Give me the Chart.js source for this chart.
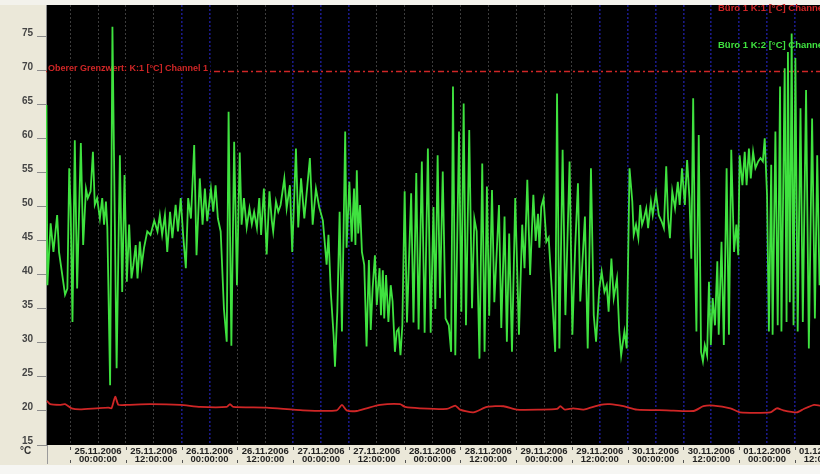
<!DOCTYPE html>
<html>
<head>
<meta charset="utf-8">
<script src="https://cdn.jsdelivr.net/npm/chart.js@4.4.1/dist/chart.umd.min.js"></script>
<style>
  html, body { margin: 0; padding: 0; background: #ebe8d9; overflow: hidden; }
  canvas { display: block; }
</style>
</head>
<body>
<canvas id="c" width="820" height="474"></canvas>
<script>
// Time is counted in hours from 25.11.2006 00:00:00.

// Büro 1 K:1 [°C] Channel 1
const ch1Hours = [
  -11.0, -10.3, -8.2, -7.1, -5.7, -3.9, -0.3, 2.2, 2.9, 3.7,
  4.4, 6.2, 11.2, 17.7, 22.0, 27.7, 28.4, 29.1, 36.3, 44.1,
  51.4, 52.5, 53.5, 55.7, 57.8, 60.7, 65.0, 66.1, 69.3, 75.1,
  76.9, 77.9, 80.8, 83.7, 87.3, 90.1, 95.2, 98.8, 99.5, 100.5,
  102.3, 104.5, 108.1, 110.2, 113.1, 116.0, 122.4, 128.2, 130.3, 132.5,
  136.1, 138.2, 144.7, 146.1, 147.5, 150.4, 151.9, 154.1, 155.4
];
const ch1Temps = [
  21.5, 21.0, 20.9, 21.0, 20.4, 20.25, 20.4, 20.5, 20.4, 22.1,
  20.9, 20.9, 21.0, 20.9, 20.6, 20.6, 21.0, 20.6, 20.5, 20.1,
  20.1, 20.9, 20.1, 20.0, 20.4, 20.9, 21.0, 20.6, 20.4, 20.3,
  20.8, 20.2, 19.8, 20.6, 20.7, 20.2, 20.2, 20.3, 20.7, 20.2,
  20.4, 20.2, 20.9, 21.0, 20.7, 20.2, 20.1, 20.0, 20.7, 20.8,
  20.4, 19.8, 19.8, 20.4, 20.1, 19.8, 20.3, 20.9, 20.8
];

// Büro 1 K:2 [°C] Channel 2
const ch2Hours = [
  -11.1, -10.9, -10.2, -9.6, -8.8, -8.4, -7.7, -7.1, -6.6, -6.2,
  -5.9, -5.5, -5.0, -4.5, -3.7, -3.2, -2.6, -2.2, -1.6, -1.1,
  -0.7, -0.2, 0.4, 0.9, 1.3, 1.7, 2.0, 2.6, 3.1, 4.0,
  4.7, 5.2, 5.7, 6.2, 6.7, 7.2, 7.6, 8.1, 8.5, 9.0,
  9.4, 9.9, 10.6, 11.3, 12.1, 12.8, 13.3, 13.8, 14.4, 14.9,
  15.5, 16.0, 16.7, 17.2, 17.8, 18.3, 18.9, 19.4, 20.0, 20.7,
  21.2, 21.9, 22.5, 23.0, 23.5, 24.3, 24.8, 25.3, 25.8, 26.4,
  27.1, 27.7, 28.1, 28.7, 29.3, 29.9, 30.5, 30.9, 31.4, 32.0,
  32.6, 33.1, 33.6, 34.2, 34.7, 35.1, 35.7, 36.3, 36.9, 37.4,
  37.7, 38.3, 38.8, 39.3, 40.1, 40.6, 41.3, 41.8, 42.6, 43.1,
  43.7, 44.4, 44.9, 45.6, 46.2, 46.9, 47.6, 48.4, 49.2, 49.6,
  50.1, 50.7, 51.0, 51.5, 52.0, 52.5, 53.2, 53.5, 54.1, 54.6,
  55.1, 55.4, 55.7, 56.0, 56.4, 56.8, 57.3, 57.8, 58.3, 58.7,
  59.1, 59.6, 60.0, 60.6, 60.9, 61.3, 61.6, 62.0, 62.5, 63.0,
  63.4, 63.9, 64.3, 64.7, 65.1, 65.5, 66.0, 66.5, 67.4, 67.9,
  68.5, 69.0, 69.7, 70.3, 71.0, 71.6, 72.2, 72.6, 73.1, 73.6,
  74.2, 74.8, 75.5, 76.0, 76.4, 76.9, 77.7, 78.2, 78.7, 79.2,
  79.9, 80.5, 81.0, 81.5, 82.1, 82.7, 83.2, 83.7, 84.2, 84.8,
  85.3, 86.3, 86.8, 87.5, 88.0, 88.5, 89.1, 89.8, 90.6, 91.3,
  91.8, 92.4, 93.0, 93.7, 94.2, 94.7, 95.0, 95.4, 95.9, 96.5,
  97.0, 97.7, 98.4, 98.8, 99.3, 100.0, 100.6, 101.5, 102.1, 102.7,
  103.3, 103.8, 104.8, 105.4, 106.1, 106.7, 107.2, 107.9, 108.4, 109.0,
  109.5, 109.9, 110.5, 111.0, 111.7, 112.2, 112.6, 113.3, 113.8, 114.4,
  115.0, 115.3, 115.8, 116.3, 116.7, 117.1, 117.5, 118.0, 118.4, 119.0,
  119.4, 120.1, 120.7, 121.3, 121.8, 122.3, 122.7, 123.1, 123.6, 124.2,
  124.8, 125.2, 125.7, 126.3, 126.8, 127.3, 127.7, 128.1, 128.5, 128.8,
  129.3, 129.8, 130.2, 130.6, 131.1, 131.5, 131.9, 132.3, 132.8, 133.3,
  133.6, 134.2, 134.7, 135.3, 135.8, 136.3, 136.9, 137.4, 137.8, 138.1,
  138.7, 139.2, 139.6, 140.1, 140.5, 141.0, 141.5, 142.1, 142.6, 143.1,
  143.5, 144.0, 144.4, 144.9, 145.2, 145.8, 146.3, 146.8, 147.1, 147.8,
  148.2, 148.5, 148.9, 149.3, 149.7, 150.1, 150.6, 151.2, 151.7, 152.4,
  153.0, 153.7, 154.3, 154.8, 155.3
];
const ch2Temps = [
  65, 38.5, 47.6, 43.4, 48.8, 43.4, 40, 37.1, 38, 55.7,
  50, 33.1, 59.8, 38, 59.4, 44.4, 52.7, 51.3, 52.3, 58.1,
  50.3, 51.3, 48.3, 51.3, 47.4, 50.8, 47, 23.8, 76.5, 26.3,
  57.6, 37.5, 54.7, 39, 47.4, 39.5, 41.4, 44.4, 39.5, 44.9,
  41.4, 44, 46.4, 45.9, 48, 46.4, 48.8, 45.9, 48.8, 43.4,
  49.3, 45.4, 50.3, 46.4, 51.3, 46, 41, 51.3, 48.3, 59.1,
  42.9, 54.2, 47.4, 52.7, 47.9, 52.7, 49.3, 53.2, 48.3, 46.4,
  35, 30.2, 64, 29.6, 59.6, 38.5, 58, 47.4, 51.3, 47,
  49.8, 47.5, 49.3, 46.9, 51.3, 45.9, 52.7, 43, 52.3, 48,
  46.4, 50.8, 49.3, 50.3, 54.2, 49.8, 53.2, 43.4, 58.6, 47,
  54.2, 48.3, 52, 57.2, 47.4, 52.7, 50, 48, 41.5, 45.9,
  37.5, 31.2, 26.5, 34.6, 49.3, 31.7, 61.1, 44, 53.7, 44.9,
  52.7, 44.4, 55.4, 46.1, 50.3, 43.4, 41.5, 29.5, 42.2, 31.9,
  38, 42.9, 35.6, 41, 34.1, 40.7, 33.6, 40, 33.1, 38.5,
  36.1, 28.7, 31.7, 32.1, 28.2, 32.6, 52.3, 33, 52, 33,
  55, 32, 56.7, 31.5, 58.6, 31.5, 50, 35, 57.6, 36.6,
  55.2, 33.6, 32.6, 28.7, 67.7, 28.2, 61.1, 34.6, 65.2, 32.6,
  61.3, 35.1, 48.3, 46.4, 27.7, 56.4, 28.7, 53, 34, 52.5,
  36, 50.3, 32.2, 48.6, 30.2, 46.1, 28.7, 51.3, 31.2, 47.4,
  41, 54, 40, 51.8, 45, 49, 44, 50, 51.3, 44.9,
  45.5, 37.5, 28.7, 66.7, 29.2, 58.4, 34.1, 56.7, 31.2, 44,
  53.5, 36.1, 48.6, 29.2, 55.7, 34.1, 30.2, 38, 40.5, 37.5,
  38.5, 34.6, 42.4, 36.6, 39.5, 31.7, 28.2, 31.7, 29.2, 55.7,
  50.8, 45.9, 47.4, 45.4, 50.3, 47.4, 48.3, 49.8, 46.9, 50.8,
  48.8, 52, 48.8, 47.9, 46.9, 56, 48.3, 45.4, 52.3, 49.8,
  53.7, 50.3, 55.7, 50.3, 56.9, 51.3, 42.4, 66, 42.4, 31.7,
  60.6, 28.7, 27.3, 29.7, 28.2, 39, 29.7, 36.6, 32.6, 42,
  31.2, 44.9, 29.7, 55.7, 31.2, 58.4, 43.4, 47.4, 42.9, 57.6,
  53.2, 58.1, 53.2, 58.6, 54.2, 58.1, 55.7, 56.7, 57.2, 56.7,
  60.1, 51.8, 31.7, 56.2, 31.2, 61.1, 32.6, 67.7, 31.7, 70.4,
  33.1, 72.8, 36, 75.5, 32.6, 71.9, 31.7, 64.5, 33.1, 67.2,
  29.2, 63, 33.6, 57.6, 38.5
];

// Upper limit for channel 1
const limitTemp = 70;

// Axes
const hourRange = [-11.2, 155.4];
const tempRange = [15, 79.7];
const yTickValues = [15, 20, 25, 30, 35, 40, 45, 50, 55, 60, 65, 70, 75];
const gridHours = [-6, 0, 6, 12, 18, 24, 30, 36, 42, 48, 54, 60, 66, 72, 78, 84,
                   90, 96, 102, 108, 114, 120, 126, 132, 138, 144, 150, 156];
const blueGridHours = [18, 24, 42, 48, 54, 108, 114, 120, 126, 132, 138, 144, 150];
const tickDates = ['25.11.2006', '25.11.2006', '26.11.2006', '26.11.2006', '27.11.2006',
                   '27.11.2006', '28.11.2006', '28.11.2006', '29.11.2006', '29.11.2006',
                   '30.11.2006', '30.11.2006', '01.12.2006', '01.12.2006'];
const tickTimes = ['00:00:00', '12:00:00', '00:00:00', '12:00:00', '00:00:00',
                   '12:00:00', '00:00:00', '12:00:00', '00:00:00', '12:00:00',
                   '00:00:00', '12:00:00', '00:00:00', '12:00:00'];

const seriesNames = ['Büro 1 K:1 [°C] Channel 1', 'Büro 1 K:2 [°C] Channel 2'];
const limitName = 'Oberer Grenzwert: K:1 [°C] Channel 1';
const unitLabel = '°C';

const RED = '#cf2626';
const GREEN = '#3fe23f';
const LABEL_FONT = '"Liberation Sans", Arial, sans-serif';

const toPoints = (xs, ys) => xs.map((x, i) => ({ x: x, y: ys[i] }));

const panel = {
  id: 'panel',
  beforeDraw(chart) {
    const { ctx, chartArea: a, width, height } = chart;
    ctx.save();
    ctx.fillStyle = '#ebe8d9';
    ctx.fillRect(0, 0, width, height);
    ctx.fillStyle = '#f3f2ec';
    ctx.fillRect(0, 0, width, a.top);
    ctx.fillStyle = '#f6f6f3';
    ctx.fillRect(0, a.bottom + 20, width, height - a.bottom - 20);
    ctx.fillStyle = '#000000';
    ctx.fillRect(a.left, a.top, a.right - a.left, a.bottom - a.top);
    ctx.restore();
  },
  beforeDatasetsDraw(chart) {
    const { ctx, chartArea: a } = chart;
    const y = Math.round(chart.scales.y.getPixelForValue(limitTemp)) + 0.5;
    ctx.save();
    ctx.beginPath();
    ctx.rect(a.left, a.top, a.right - a.left, a.bottom - a.top);
    ctx.clip();
    ctx.strokeStyle = RED;
    ctx.lineWidth = 1.5;
    ctx.setLineDash([6, 3, 2, 3]);
    ctx.beginPath();
    ctx.moveTo(a.left, y);
    ctx.lineTo(a.right, y);
    ctx.stroke();
    ctx.setLineDash([]);
    ctx.font = 'bold 9px ' + LABEL_FONT;
    const w = ctx.measureText(limitName).width;
    ctx.fillStyle = '#000000';
    ctx.fillRect(a.left + 1, y - 10, w + 3, 12);
    ctx.fillStyle = RED;
    ctx.textBaseline = 'alphabetic';
    ctx.textAlign = 'left';
    ctx.fillText(limitName, a.left + 2, y - 1);
    ctx.restore();
  },
  afterDatasetsDraw(chart) {
    const { ctx } = chart;
    ctx.save();
    ctx.font = 'bold 9.5px ' + LABEL_FONT;
    ctx.textBaseline = 'middle';
    ctx.textAlign = 'left';
    ctx.fillStyle = RED;
    ctx.fillText(seriesNames[0], 718, 8);
    ctx.fillStyle = GREEN;
    ctx.fillText(seriesNames[1], 718, 45);
    ctx.restore();
  },
  afterDraw(chart) {
    const { ctx, chartArea: a } = chart;
    const xs = chart.scales.x;
    ctx.save();
    // separator of the time axis
    ctx.strokeStyle = '#9a9a9a';
    ctx.lineWidth = 1;
    ctx.beginPath();
    ctx.moveTo(a.left + 1.5, a.bottom);
    ctx.lineTo(a.left + 1.5, a.bottom + 19);
    ctx.stroke();
    // small marks between date labels
    ctx.strokeStyle = '#555555';
    gridHours.forEach(h => {
      if (h % 12 === 0) return;
      const x = Math.round(xs.getPixelForValue(h)) + 0.5;
      ctx.beginPath();
      ctx.moveTo(x, a.bottom + 2);
      ctx.lineTo(x, a.bottom + 5);
      ctx.moveTo(x, a.bottom + 15);
      ctx.lineTo(x, a.bottom + 18);
      ctx.stroke();
    });
    // unit
    ctx.font = 'bold 10px ' + LABEL_FONT;
    ctx.fillStyle = '#333333';
    ctx.textAlign = 'left';
    ctx.textBaseline = 'middle';
    ctx.fillText(unitLabel, 20, a.bottom + 6);
    ctx.restore();
  }
};

new Chart(document.getElementById('c'), {
  type: 'line',
  data: {
    datasets: [
      {
        label: seriesNames[1],
        data: toPoints(ch2Hours, ch2Temps),
        borderColor: GREEN,
        borderWidth: 1.8,
        pointRadius: 0,
        tension: 0,
        fill: false
      },
      {
        label: seriesNames[0],
        data: toPoints(ch1Hours, ch1Temps),
        borderColor: RED,
        borderWidth: 1.8,
        pointRadius: 0,
        tension: 0.2,
        fill: false
      }
    ]
  },
  options: {
    responsive: false,
    animation: false,
    devicePixelRatio: 1,
    layout: { padding: { top: 5, left: 0, right: 0, bottom: 0 } },
    plugins: { legend: { display: false }, tooltip: { enabled: false } },
    scales: {
      x: {
        type: 'linear',
        min: hourRange[0],
        max: hourRange[1],
        afterBuildTicks: s => { s.ticks = gridHours.map(v => ({ value: v })); },
        afterFit: s => { s.height = 29; s.paddingLeft = 0; s.paddingRight = 0; },
        grid: {
          drawTicks: false,
          lineWidth: c => blueGridHours.includes(c.tick && c.tick.value) ? 1.6 : 1,
          color: c => blueGridHours.includes(c.tick && c.tick.value) ? '#1a1a86' : '#3c3c3c'
        },
        border: { display: false, dash: [2, 2] },
        ticks: {
          autoSkip: false,
          maxRotation: 0,
          padding: 2,
          color: '#222222',
          font: { family: LABEL_FONT, size: 9.5, weight: 'bold', lineHeight: 0.88 },
          callback: v => (v % 12 === 0 && v >= 0) ? [tickDates[v / 12], tickTimes[v / 12]] : ''
        }
      },
      y: {
        type: 'linear',
        min: tempRange[0],
        max: tempRange[1],
        afterBuildTicks: s => { s.ticks = yTickValues.map(v => ({ value: v })); },
        afterFit: s => { s.width = 46; s.paddingTop = 0; s.paddingBottom = 0; },
        grid: {
          drawOnChartArea: false,
          drawTicks: true,
          tickLength: 9,
          tickColor: '#8c8c8c'
        },
        border: { display: true, color: '#8c8c8c', width: 1 },
        ticks: {
          padding: 4,
          labelOffset: -4,
          color: '#444444',
          font: { family: LABEL_FONT, size: 10, weight: 'bold' }
        }
      }
    }
  },
  plugins: [panel]
});
</script>
</body>
</html>
